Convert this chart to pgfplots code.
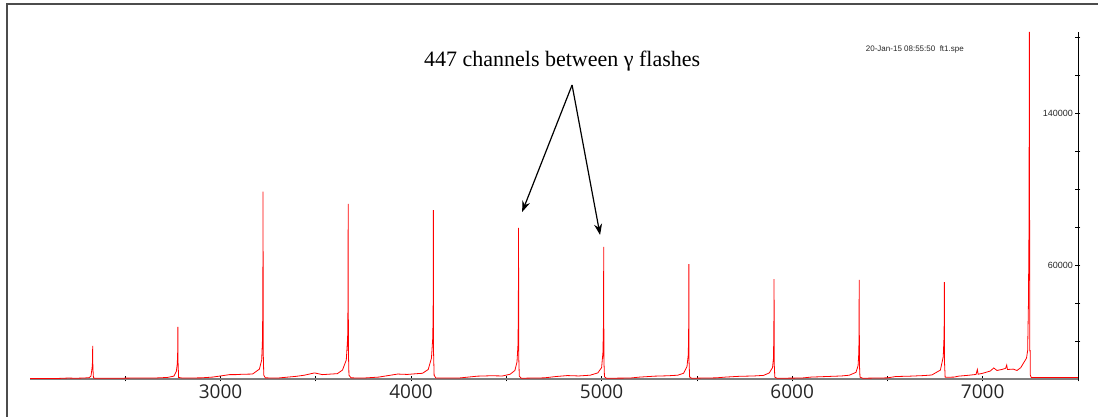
\documentclass[border=0pt]{standalone}
\usepackage{fontspec}
\setmainfont{Liberation Serif}
\newfontfamily\opensans{Open Sans}
\newfontfamily\arial{Liberation Sans}
\usepackage{pgfplots}
\usepackage{pgfplotstable}
\pgfplotsset{compat=1.18}
\usetikzlibrary{arrows.meta}

% spectrum: channel vs counts
\pgfplotstableread{
ch counts
2000 300
2150 300
2200 500
2240 400
2280 500
2310 700
2320 1500
2326 6000
2328 9000
2329 17400
2330 6000
2333 600
2340 400
2450 400
2550 500
2650 500
2720 800
2755 1500
2768 4000
2773 8000
2775 14000
2776 27400
2777 9000
2780 800
2800 500
2900 600
2958 1000
3000 1600
3047 2300
3080 2300
3115 2500
3168 2600
3204 5200
3216 10000
3220 20500
3222 40000
3223 98600
3224 14400
3227 2000
3235 600
3300 500
3397 1400
3440 2000
3493 3200
3535 2300
3580 2600
3613 2800
3640 4700
3660 10000
3667 21600
3669 40000
3670 92100
3671 15000
3674 2000
3685 600
3750 500
3830 1000
3880 1800
3930 2600
3980 2400
4030 2800
4060 3000
4090 5000
4107 11000
4114 22000
4116 40000
4117 88900
4118 14000
4121 2000
4130 500
4250 500
4300 1000
4350 1500
4420 1700
4480 1600
4520 2500
4545 4500
4556 9000
4561 18000
4563 35000
4564 79500
4565 12000
4568 1500
4578 400
4700 600
4760 1300
4820 1800
4880 1600
4940 2000
4980 3200
5000 6000
5007 14000
5010 30000
5011 69500
5012 10000
5015 1200
5025 400
5150 500
5200 1000
5280 1500
5350 1700
5400 2000
5430 3000
5448 6500
5455 13000
5457 28000
5458 60500
5459 9000
5462 1000
5472 400
5600 600
5650 1000
5720 1400
5800 1600
5850 1900
5880 3200
5897 6000
5902 11000
5904 25000
5905 52600
5906 8000
5909 1000
5920 400
6050 500
6100 1000
6180 1300
6260 1600
6300 2000
6335 3500
6346 7000
6350 14000
6351 26000
6352 52100
6353 8000
6356 1000
6370 400
6500 600
6544 1300
6620 1500
6690 1800
6733 2100
6778 4700
6793 11700
6797 22000
6798 30000
6799 51000
6800 8000
6803 900
6850 1000
6874 1500
6930 2000
6965 2400
6972 5000
6976 2500
7000 3000
7040 4200
7058 5800
7075 4500
7100 5000
7120 5600
7126 7400
7130 5000
7160 5200
7180 4500
7200 6000
7218 9000
7230 11000
7236 15000
7240 39000
7243 80000
7245 182600
7247 15000
7249 15000
7250 2000
7255 800
7300 800
7400 800
7500 800
}\spectrum

\begin{document}
\begin{tikzpicture}[x=1pt,y=1pt]
\useasboundingbox (0,0) rectangle (1098,417);
\draw[line width=1.2pt, black!70] (7,0) -- (7,413) -- (1098,413);
\begin{axis}[
  at={(30pt,38pt)}, anchor=south west,
  scale only axis, width=1048pt, height=347pt,
  xmin=2000, xmax=7500, ymin=0, ymax=182600,
  axis x line*=bottom, axis y line*=right,
  x axis line style={-, gray, line width=1.5pt},
  y axis line style={-, black, line width=0.8pt},
  tick align=center, major tick length=5pt,
  tick style={black, line width=0.7pt},
  xtick={2500,3000,...,7500},
  xticklabels={,3000,,4000,,5000,,6000,,7000,},
  xticklabel style={font=\opensans\fontsize{19}{19}\selectfont, text=black!85},
  ytick={20000,40000,...,180000},
  yticklabels={,,60000,,,,140000,,},
  scaled y ticks=false,
  yticklabel style={font=\arial\fontsize{9}{9}\selectfont, anchor=east, xshift=-4pt, text=black!85},
  /pgf/number format/assume math mode=true,
]
\addplot[red, line width=0.8pt, mark=none] table[x=ch, y=counts] {\spectrum};

\node[font=\fontsize{22}{22}\selectfont] at (axis cs:4793,167400) {447 channels between γ flashes};
\draw[-{Stealth[length=11pt,width=8pt]}, line width=1.2pt] (axis cs:4845,154700) -- (axis cs:4583,87900);
\draw[-{Stealth[length=11pt,width=8pt]}, line width=1.2pt] (axis cs:4845,154700) -- (axis cs:4992,75800);
\node[font=\arial\fontsize{8}{8}\selectfont, text=black!85] at (axis cs:6644,173200) {20-Jan-15 08:55:50\ \ ft1.spe};
\end{axis}
\end{tikzpicture}
\end{document}
